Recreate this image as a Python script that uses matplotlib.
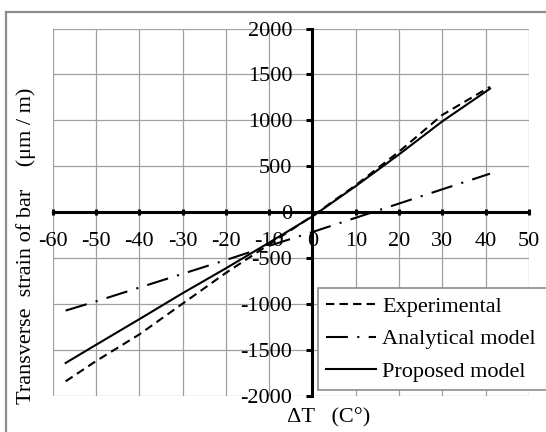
import matplotlib
matplotlib.use('Agg')
import matplotlib.pyplot as plt
from matplotlib.patches import Rectangle

plt.rcParams['font.family'] = ['Liberation Serif', 'DejaVu Serif']
plt.rcParams['axes.unicode_minus'] = False

# temperature change (C deg)
dT = [-57, -50, -40, -30, -20, -10, 0, 10, 20, 30, 41]
# transverse strain (um/m)
experimental = [-1840, -1620, -1330, -995, -660, -350, -40, 295, 660, 1060, 1365]
analytical = [-1070, -970, -820, -670, -520, -365, -215, -60, 95, 250, 420]
proposed = [-1640, -1443, -1164, -881, -610, -330, -45, 285, 630, 990, 1345]

xticks = list(range(-60, 51, 10))
yticks = list(range(-2000, 2001, 500))

fig = plt.figure(figsize=(5.46, 4.32), dpi=100)
ax = fig.add_axes([0.0965, 0.0833, 0.8723, 0.8507])

# outer frame of the chart area (runs off the right / bottom edge)
fig.patches.append(Rectangle((6/546, -0.2), 1.2, 1.2 - 11.7/432,
                             transform=fig.transFigure, fill=False,
                             edgecolor='#8c8c8c', linewidth=1.6, clip_on=False))

ax.plot(dT, experimental, color='black', lw=1.5, dashes=(4, 2.5), label='Experimental')
ax.plot(dT, analytical, color='black', lw=1.5, dashes=(10.5, 4.5, 1, 4.5), label='Analytical model')
ax.plot(dT, proposed, color='black', lw=1.5, label='Proposed model')

ax.set_xlim(-60, 50)
ax.set_ylim(-2000, 2000)
ax.set_xticks(xticks)
ax.set_yticks(yticks)

ax.grid(True, color='#a0a0a0', lw=0.9)
ax.set_axisbelow(True)
for gl in ax.get_xgridlines() + ax.get_ygridlines():
    gl.set_clip_on(False)

ax.spines['left'].set_position(('data', 0))
ax.spines['bottom'].set_position(('data', 0))
ax.spines['right'].set_visible(False)
ax.spines['top'].set_visible(False)
for s in ['left', 'bottom']:
    ax.spines[s].set_linewidth(2.2)
    ax.spines[s].set_zorder(2.5)

ax.tick_params(axis='x', direction='inout', length=5, width=2.2, pad=12, labelsize=16)
ax.tick_params(axis='y', direction='out', length=4.5, width=2.2, pad=10, labelsize=16)

leg = ax.legend(loc='lower left', bbox_to_anchor=(318/546, 42/432, 0.45, 0.2),
                bbox_transform=fig.transFigure, mode='expand', fontsize=16,
                frameon=True, fancybox=False, edgecolor='#8c8c8c', framealpha=1,
                handlelength=2.25, handletextpad=0.3, labelspacing=0.55,
                borderpad=0.35, borderaxespad=0)
leg.get_frame().set_linewidth(1.2)

fig.text(329/546, 1 - 418/432, '\u0394T   (C\u00b0)', fontsize=16, ha='center', va='center')
fig.text(26/546, 1 - 246/432, 'Transverse  strain of bar    (\u03bcm / m)', fontsize=16,
         rotation=90, ha='center', va='center')

fig.savefig('out.png', dpi=100)
